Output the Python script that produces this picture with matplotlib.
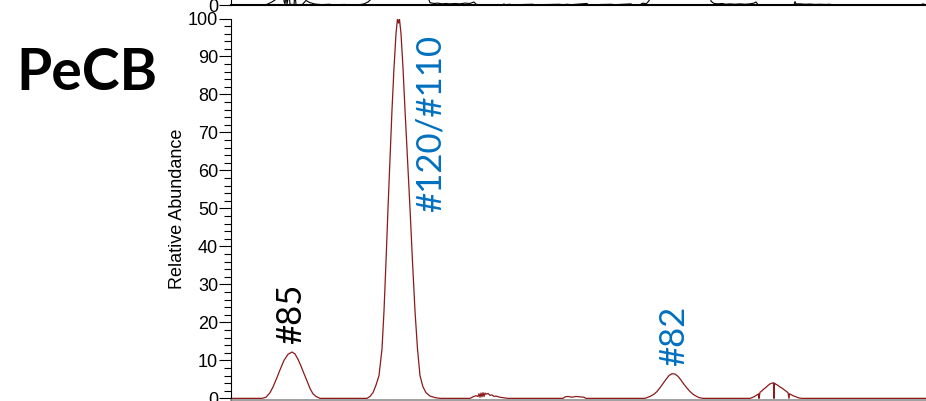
import matplotlib
matplotlib.use("Agg")
import matplotlib.pyplot as plt
from matplotlib.ticker import MultipleLocator

# PeCB trace (retention time in min, relative abundance in %)
pecb_time = [
    28.00, 28.31, 28.35, 28.39, 28.42, 28.46, 28.49, 28.53, 28.57, 28.61,
    28.64, 28.67, 28.70, 28.73, 28.76, 28.79, 28.82, 28.85, 28.89,
    29.36, 29.39, 29.42, 29.45, 29.48, 29.51, 29.53, 29.55, 29.57, 29.59,
    29.61, 29.63, 29.65, 29.665, 29.675, 29.685, 29.70, 29.72, 29.74, 29.765,
    29.79, 29.815, 29.84, 29.865, 29.89, 29.92, 29.95, 29.99, 30.04, 30.09,
    30.39, 30.42, 30.45, 30.47, 30.48, 30.49, 30.50, 30.51, 30.52, 30.53,
    30.54, 30.55, 30.57, 30.59, 30.61, 30.63, 30.65, 30.69, 30.74, 30.77,
    31.32, 31.34, 31.37, 31.41, 31.45, 31.49, 31.53, 31.55,
    32.14, 32.19, 32.23, 32.26, 32.29, 32.32, 32.35, 32.38, 32.41, 32.44,
    32.47, 32.50, 32.53, 32.56, 32.59, 32.62, 32.65, 32.68, 32.72,
    33.19, 33.23, 33.26, 33.275, 33.28, 33.29, 33.31, 33.33, 33.35, 33.37,
    33.39, 33.41, 33.425, 33.43, 33.435, 33.45, 33.47, 33.49, 33.51, 33.53,
    33.55, 33.57, 33.58, 33.585, 33.60, 33.62, 33.65, 33.68, 33.71, 34.99,
]
pecb_abund = [
    0, 0, 0.3, 1.5, 3.0, 5.5, 7.5, 10.0, 11.6, 12.2,
    11.7, 10.3, 8.5, 6.5, 4.6, 2.6, 1.2, 0.5, 0,
    0, 0.5, 1.5, 3.5, 6, 13, 23, 36, 50, 63,
    76, 87, 96, 100, 98.8, 99.8, 96, 87, 76, 63,
    50, 36, 23, 13, 6, 3, 1.5, 0.6, 0.2, 0,
    0, 0.4, 0.7, 0.5, 1.2, 0.3, 1.4, 0.4, 1.5, 0.5,
    1.4, 1.1, 1.3, 0.8, 0.9, 0.5, 0.6, 0.3, 0.1, 0,
    0, 0.4, 0.5, 0.3, 0.5, 0.4, 0.3, 0,
    0, 0.5, 1.1, 1.8, 2.8, 3.9, 5.0, 6.0, 6.5, 6.4,
    5.8, 4.8, 3.7, 2.7, 1.8, 1.1, 0.6, 0.2, 0,
    0, 0.4, 0.9, 1.2, 0, 1.6, 2.0, 2.5, 2.9, 3.4,
    3.8, 4.0, 4.1, 0, 4.0, 3.7, 3.4, 3.0, 2.7, 2.3,
    1.9, 1.5, 0, 1.2, 1.0, 0.7, 0.4, 0.1, 0, 0,
]

# panel above (only its baseline is on the page)
upper_time = [
    28.00, 28.34, 28.37, 28.41, 28.45, 28.48, 28.50, 28.52, 28.53, 28.54,
    28.55, 28.56, 28.58, 28.59, 28.63, 28.64, 28.65, 28.71, 28.73, 28.75,
    28.77, 28.79, 28.81, 28.83, 28.86, 28.91, 28.99, 29.00, 29.14, 29.15,
    29.29, 29.33, 29.37, 29.40, 29.42, 29.45, 29.94, 29.97, 29.99, 30.03,
    30.07, 30.11, 30.15, 30.19, 30.24, 30.29, 30.34, 30.39, 30.43, 30.45,
    30.49, 30.72, 30.73, 30.74, 30.79, 30.80, 31.02, 31.03, 31.29, 31.30,
    31.37, 31.38, 31.56, 31.57, 31.81, 31.82, 32.00, 32.01, 32.09, 32.12,
    32.15, 32.17, 32.19, 32.21, 32.77, 32.80, 32.83, 32.87, 32.91, 32.95,
    32.99, 33.04, 33.09, 33.14, 33.19, 33.23, 33.25, 33.27, 33.63, 33.64,
    33.65, 33.69, 33.74, 33.79, 33.84, 33.89, 33.95, 33.99, 34.01, 34.90,
    34.92, 34.94, 34.99,
]
upper_abund = [
    0, 0, 0.3, 0.8, 1.5, 5, 20, 20, 1.0, 0.2,
    3, 0.2, 3, 0.2, 0.1, 3, 0.1, 0.1, 0.6, 1.2,
    0.9, 0.6, 0.5, 0.3, 0.2, 0.1, 0.2, 0.05, 0.15, 0.05,
    0.1, 0.3, 0.8, 1.5, 5, 30, 30, 2, 0.6, 0.4,
    0.5, 0.3, 0.4, 0.3, 0.4, 0.3, 0.5, 0.4, 0.8, 0.2,
    0.05, 0.05, 0.3, 0.05, 0.2, 0.05, 0.2, 0.05, 0.2, 0.05,
    0.2, 0.05, 0.4, 0.05, 0.2, 0.05, 0.3, 0.05, 0.1, 0.5,
    0.3, 0.8, 1.5, 10, 10, 1.0, 0.4, 0.3, 0.4, 0.2,
    0.3, 0.2, 0.3, 0.2, 0.3, 0.5, 0.8, 0.1, 0.05, 0.9,
    0.3, 0.3, 0.2, 0.25, 0.15, 0.2, 0.15, 0.2, 0.05, 0.05,
    0.3, 0.1, 0,
]

# peak labels: text, retention time, abundance where the label starts, colour
peak_names = ["#85", "#120/#110", "#82"]
peak_label_time = [28.60, 30.00, 32.43]
peak_label_abund = [14.2, 49.0, 8.4]
peak_colors = ["black", "#0070C0", "#0070C0"]

W, H = 926, 401
fig = plt.figure(figsize=(W / 100, H / 100), dpi=100)

left = 231 / W
width = 700 / W  # 100 px per minute, right edge runs off the page
ax = fig.add_axes([left, 1.5 / H, width, 381 / H])
ax.plot(pecb_time, pecb_abund, color="#8B1A1A", lw=0.9)
ax.set_xlim(28.0, 35.0)
ax.set_ylim(-0.3, 100)
ax.yaxis.set_major_locator(MultipleLocator(10))
ax.yaxis.set_minor_locator(MultipleLocator(2))
ax.tick_params(axis="y", which="major", length=8.5, width=0.8, pad=0.8,
               labelsize=13, labelfontfamily="Liberation Sans")
ax.tick_params(axis="y", which="minor", length=5, width=0.8)
ax.tick_params(axis="x", which="both", bottom=False, labelbottom=False)
for side in ("top", "right"):
    ax.spines[side].set_visible(False)
ax.spines["left"].set_linewidth(0.8)
ax.spines["bottom"].set_color("#909090")
ax.spines["bottom"].set_linewidth(1.2)
ax.set_ylabel("Relative Abundance", fontsize=13, family="Liberation Sans")
ax.yaxis.set_label_coords(-45 / 700, 0.5)

for name, t, a, c in zip(peak_names, peak_label_time, peak_label_abund, peak_colors):
    ax.text(t, a, name, rotation=90, ha="center", va="bottom", color=c,
            fontsize=25, family="Lato")

# panel above, mostly off the page
top = fig.add_axes([left, (H - 5) / H, width, 381 / H])
top.plot(upper_time, upper_abund, color="black", lw=0.8)
top.set_xlim(28.0, 35.0)
top.set_ylim(0, 100)
top.set_yticks([0])
top.tick_params(axis="y", length=8.5, width=0.8, pad=0.8, labelsize=13,
                labelfontfamily="Liberation Sans")
top.tick_params(axis="x", bottom=False, labelbottom=False)
for side in ("top", "right"):
    top.spines[side].set_visible(False)
top.spines["bottom"].set_linewidth(1.5)

fig.text(16 / W, 1 - 74 / H, "PeCB", fontsize=41, fontweight="bold",
         family="Lato", ha="left", va="center")

fig.savefig("out.png", dpi=100)
